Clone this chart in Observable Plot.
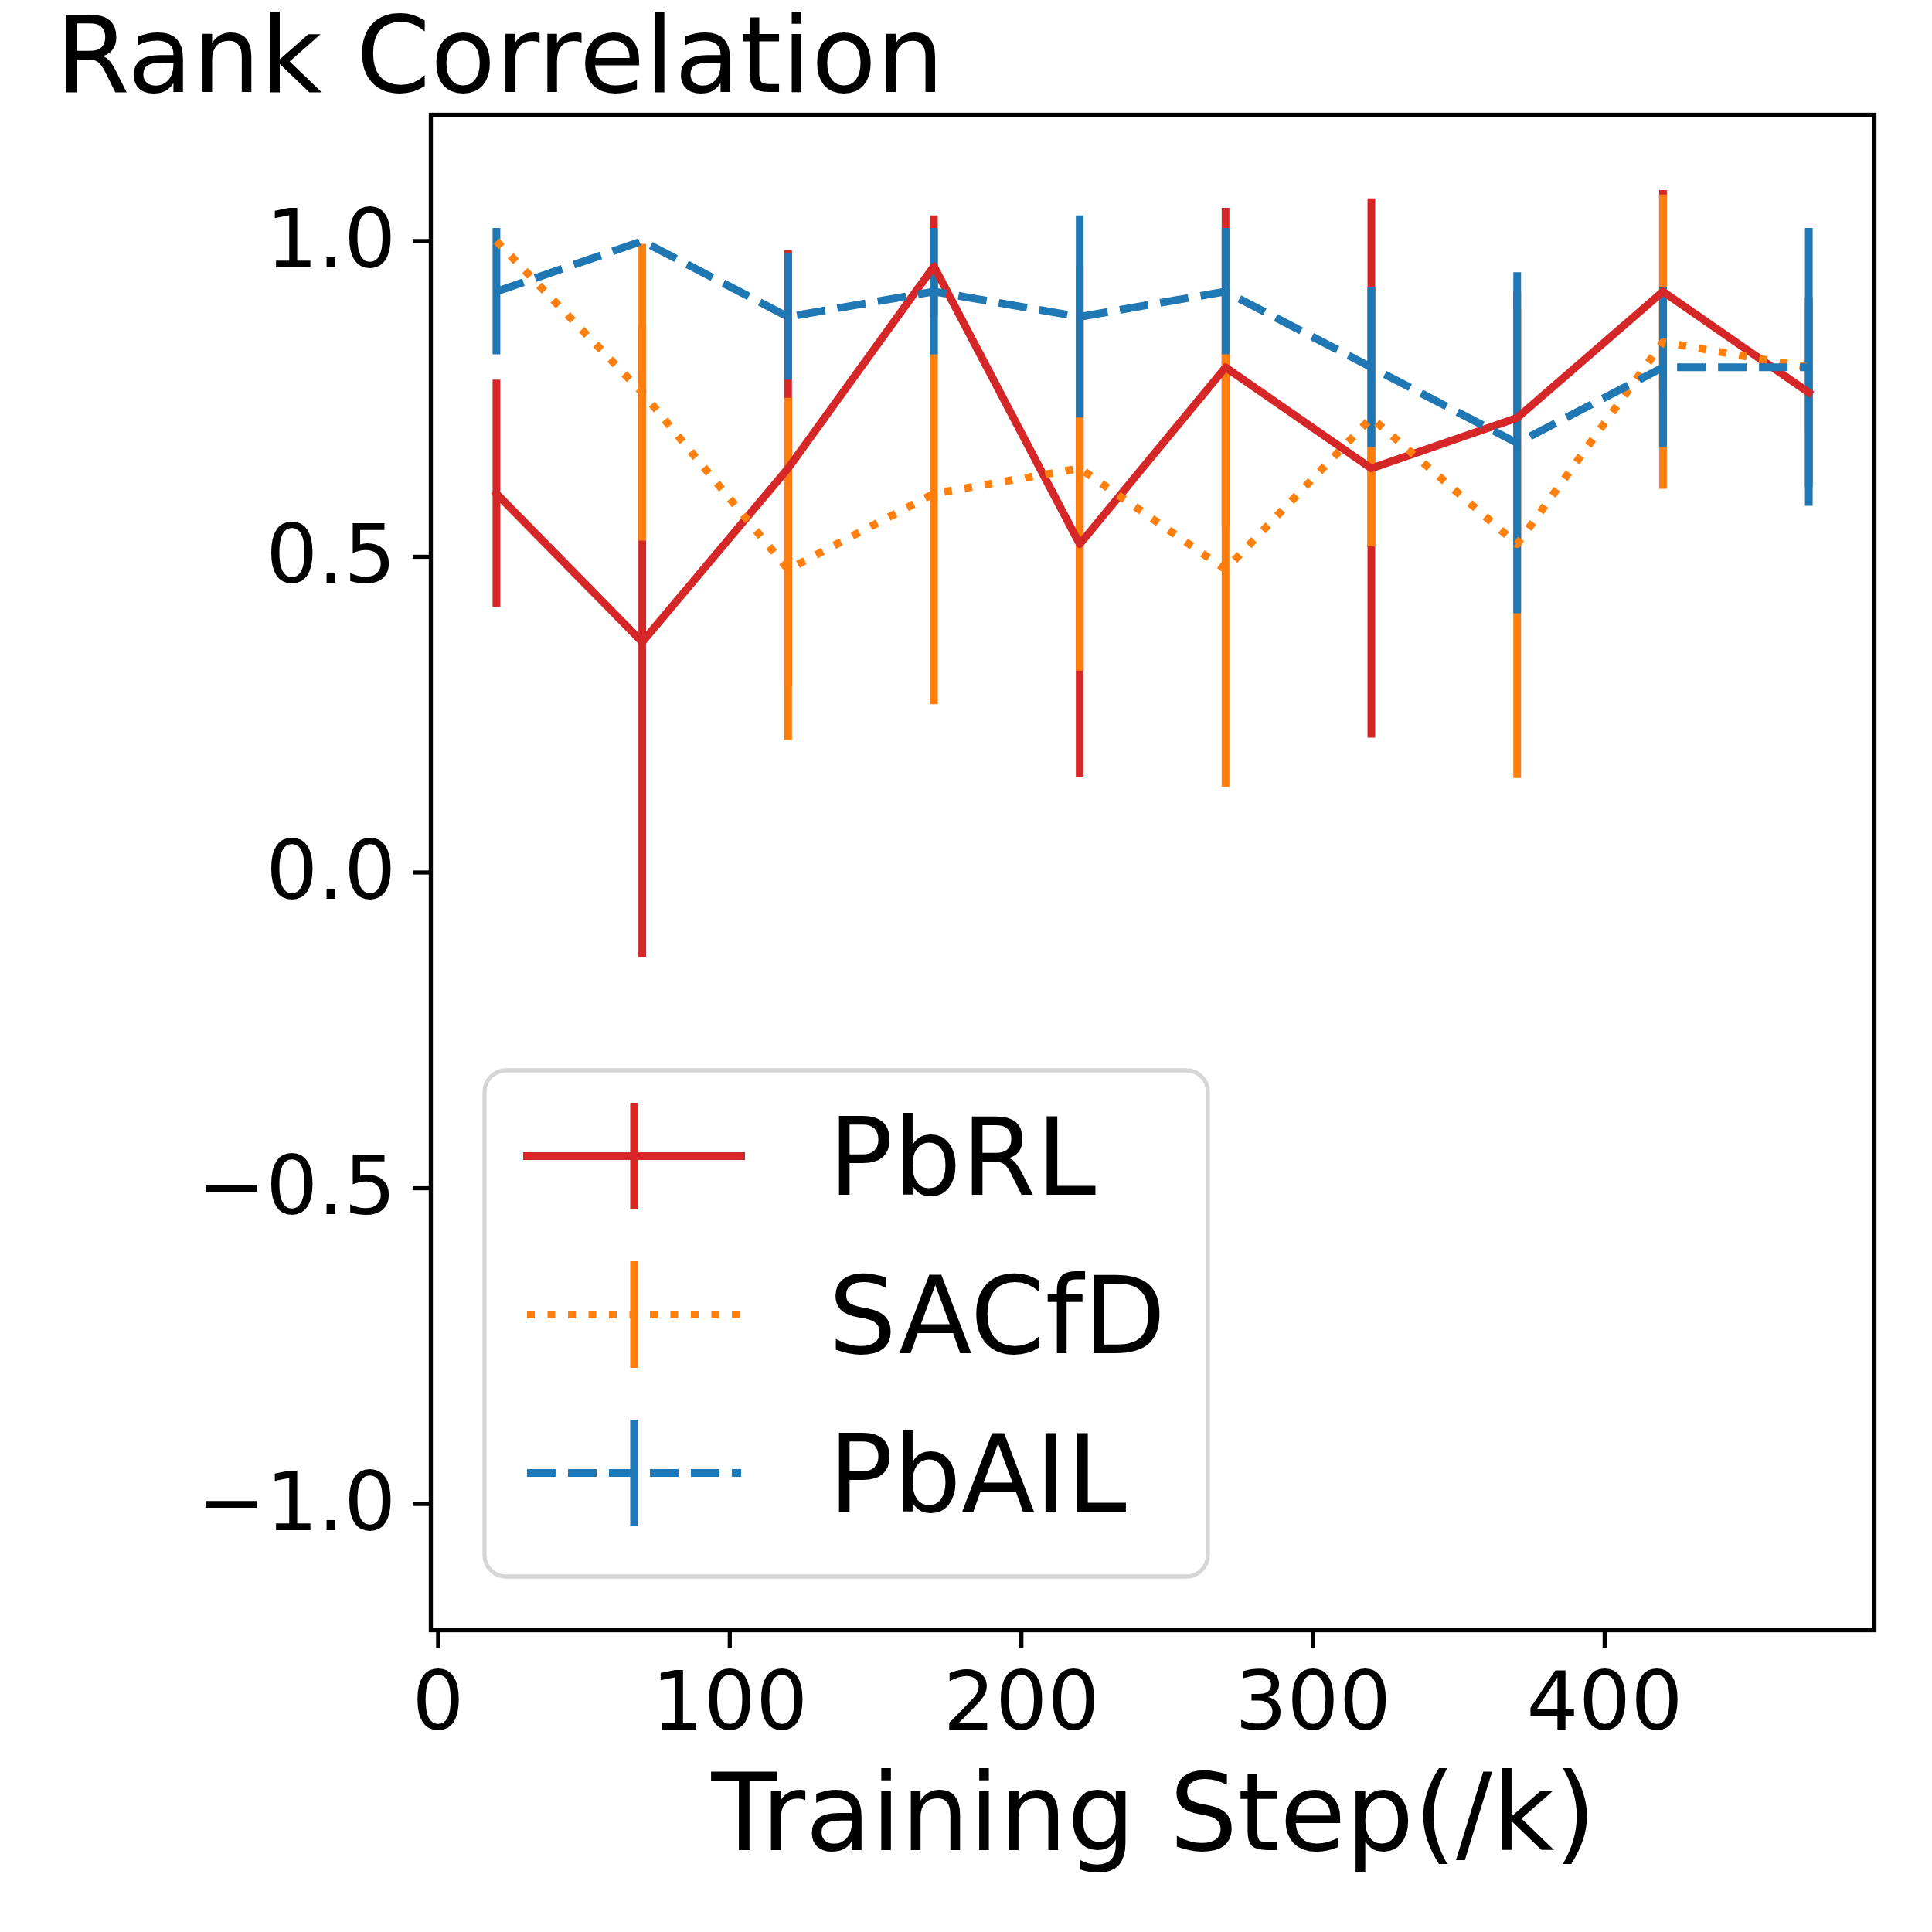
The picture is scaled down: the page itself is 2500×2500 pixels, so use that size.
<!DOCTYPE html>
<html><head><meta charset="utf-8">
<script src="https://cdn.jsdelivr.net/npm/d3@7"></script>
<script src="https://cdn.jsdelivr.net/npm/@observablehq/plot@0.6"></script>
<style>
html,body{margin:0;padding:0;background:#fff;}
#wrap{position:relative;width:2500px;height:2500px;background:#fff;}
#wrap svg{position:absolute;left:0;top:0;}
</style></head><body><div id="wrap"></div>
<script>
// ---- data ----
const steps = [20, 70, 120, 170, 220, 270, 320, 370, 420, 470];
const methods = ["PbRL", "SACfD", "PbAIL"];
const pbrlMean = [0.60, 0.365, 0.64, 0.96, 0.52, 0.80, 0.64, 0.72, 0.92, 0.76];
const pbrlErr  = [0.18, 0.50, 0.345, 0.08, 0.37, 0.252, 0.427, 0.20, 0.16, 0.15];
const sacfdMean = [1.00, 0.76, 0.48, 0.60, 0.64, 0.48, 0.72, 0.52, 0.84, 0.80];
const sacfdErr  = [0.00, 0.235, 0.271, 0.334, 0.321, 0.345, 0.204, 0.371, 0.233, 0.10];
const pbailMean = [0.92, 1.00, 0.88, 0.92, 0.88, 0.92, 0.80, 0.68, 0.80, 0.80];
const pbailErr  = [0.10, 0.00, 0.10, 0.10, 0.16, 0.10, 0.127, 0.27, 0.127, 0.22];
const xTicks = [0, 100, 200, 300, 400];
const yTicks = [-1.0, -0.5, 0.0, 0.5, 1.0];
const titleText = "Rank Correlation";
const xLabelText = "Training Step(/k)";

// styles
const colors = {PbRL: "#d62728", SACfD: "#ff7f0e", PbAIL: "#1f77b4"};
const dashes = {PbRL: null, SACfD: "10,16.5", PbAIL: "37,16"};
const caps = {PbRL: "square", SACfD: "butt", PbAIL: "butt"};

const means = {PbRL: pbrlMean, SACfD: sacfdMean, PbAIL: pbailMean};
const errs = {PbRL: pbrlErr, SACfD: sacfdErr, PbAIL: pbailErr};
const rows = methods.flatMap(m => steps.map((x, i) => ({
  method: m, x, y: means[m][i], lo: means[m][i] - errs[m][i], hi: means[m][i] + errs[m][i]
})));

const W = 2500, H = 2500;
const mL = 557, mR = 75, mT = 148, mB = 391;
const fmt = d => (d < 0 ? "\u2212" : "") + Math.abs(d).toFixed(1);

const marks = [];
for (const m of methods) {
  marks.push(Plot.ruleX(rows.filter(r => r.method === m), {
    x: "x", y1: "lo", y2: "hi", stroke: colors[m], strokeWidth: 10
  }));
}
for (const m of methods) {
  marks.push(Plot.line(rows.filter(r => r.method === m), {
    x: "x", y: "y", stroke: colors[m], strokeWidth: 10,
    strokeDasharray: dashes[m] || undefined, strokeLinejoin: "round", strokeLinecap: caps[m]
  }));
}
marks.push(Plot.frame({stroke: "black", strokeWidth: 5.3}));
marks.push(Plot.axisX({ticks: xTicks, tickSize: 23, tickPadding: 30, tickFormat: d => String(d),
  fontSize: 106, strokeWidth: 5.3, label: null}));
marks.push(Plot.axisY({ticks: yTicks, tickSize: 23, tickPadding: 22, tickFormat: fmt,
  fontSize: 106, strokeWidth: 5.3, label: null}));

const chart = Plot.plot({
  width: W, height: H,
  marginLeft: mL, marginRight: mR, marginTop: mT, marginBottom: mB,
  style: {fontFamily: "DejaVu Sans", fontSize: "106px", background: "white", color: "black", overflow: "visible"},
  x: {domain: [-2.5, 492.5], nice: false},
  y: {domain: [-1.2, 1.2], nice: false},
  marks
});
const wrap = document.getElementById("wrap");
wrap.appendChild(chart);

// ---- overlay: title, x label, legend ----
const ov = d3.select(wrap).append("svg")
  .attr("width", W).attr("height", H)
  .attr("font-family", "DejaVu Sans")
  .style("pointer-events", "none");

ov.append("text").attr("x", 72).attr("y", 119).attr("font-size", 138)
  .attr("fill", "black").text(titleText);
ov.append("text").attr("x", (mL + (W - mR)) / 2 + 2).attr("y", 2394).attr("font-size", 139)
  .attr("text-anchor", "middle").attr("fill", "black").text(xLabelText);

// legend
const lg = ov.append("g");
lg.append("rect").attr("x", 627).attr("y", 1385).attr("width", 936).attr("height", 655)
  .attr("rx", 28).attr("ry", 28).attr("fill", "white").attr("stroke", "#d6d6d6").attr("stroke-width", 5.3);
methods.forEach((m, i) => {
  const ly = 1496 + i * 205;
  const hx0 = 682, hx1 = 959, hc = 820.5;
  lg.append("line").attr("x1", hx0).attr("x2", hx1).attr("y1", ly).attr("y2", ly)
    .attr("stroke", colors[m]).attr("stroke-width", 10)
    .attr("stroke-dasharray", dashes[m]).attr("stroke-linecap", caps[m]);
  lg.append("line").attr("x1", hc).attr("x2", hc).attr("y1", ly - 69).attr("y2", ly + 69)
    .attr("stroke", colors[m]).attr("stroke-width", 10);
  lg.append("text").attr("x", 1072).attr("y", ly + 50).attr("font-size", 139)
    .attr("fill", "black").text(m);
});
</script></body></html>
